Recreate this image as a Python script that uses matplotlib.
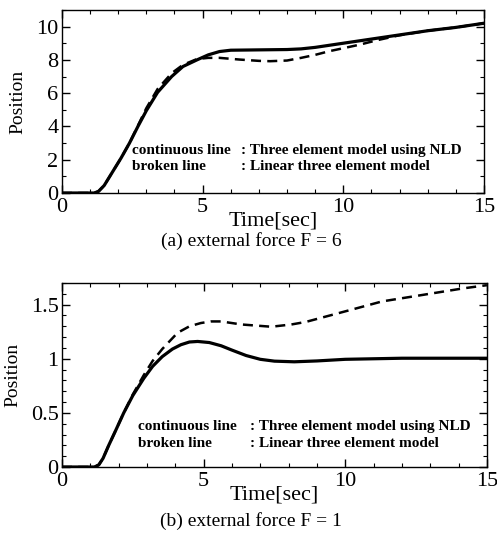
import matplotlib.pyplot as plt
from matplotlib.ticker import MultipleLocator, FormatStrFormatter

plt.rcParams['font.family'] = ['Liberation Serif', 'DejaVu Serif']

# (a) F = 6
t_a_nld = [0, 1.15, 1.3, 1.5, 1.7, 1.9, 2.1, 2.4, 2.7, 3.0, 3.4, 3.9, 4.3, 4.8, 5.2, 5.6,
           6.0, 7.0, 8.0, 8.5, 9.0, 10, 11, 12, 13, 14, 15]
x_a_nld = [0, 0, 0.1, 0.45, 1.0, 1.55, 2.1, 3.0, 4.0, 4.95, 6.05, 7.0, 7.6, 8.0, 8.3, 8.5,
           8.58, 8.6, 8.62, 8.66, 8.75, 9.0, 9.25, 9.5, 9.75, 9.95, 10.2]
t_a_lin = [0, 1.15, 1.3, 1.5, 1.7, 1.9, 2.1, 2.4, 2.7, 3.0, 3.4, 3.9, 4.3, 4.8, 5.2, 5.6,
           6.3, 7.0, 7.4, 8.0, 8.5, 9.0, 9.5, 10.0, 10.6, 11.2, 12, 13, 14, 15]
x_a_lin = [0, 0, 0.1, 0.45, 1.0, 1.55, 2.1, 3.0, 4.05, 5.1, 6.25, 7.2, 7.7, 8.05, 8.12, 8.12,
           8.02, 7.94, 7.92, 7.96, 8.12, 8.3, 8.52, 8.7, 8.92, 9.18, 9.48, 9.75, 9.95, 10.2]

# (b) F = 1
t_b_nld = [0, 1.15, 1.3, 1.45, 1.65, 1.9, 2.18, 2.5, 2.89, 3.2, 3.54, 3.9, 4.2, 4.5, 4.79,
           5.2, 5.62, 6.0, 6.5, 7.0, 7.5, 8.2, 9.0, 10, 11, 12, 15]
x_b_nld = [0, 0, 0.02, 0.08, 0.2, 0.34, 0.5, 0.66, 0.82, 0.93, 1.02, 1.09, 1.13, 1.155, 1.16,
           1.15, 1.12, 1.08, 1.03, 0.995, 0.978, 0.972, 0.98, 0.995, 1.0, 1.005, 1.005]
t_b_lin = [0, 1.15, 1.3, 1.45, 1.65, 1.9, 2.18, 2.5, 2.89, 3.2, 3.54, 4.08, 4.5, 4.9, 5.26,
           5.62, 6.33, 7.39, 8.1, 8.6, 9.17, 10.24, 11.3, 12.73, 14.15, 15]
x_b_lin = [0, 0, 0.02, 0.08, 0.2, 0.34, 0.5, 0.67, 0.85, 0.98, 1.09, 1.24, 1.3, 1.33, 1.345,
           1.345, 1.317, 1.296, 1.317, 1.34, 1.38, 1.455, 1.53, 1.59, 1.65, 1.68]

fig = plt.figure(figsize=(4.97, 5.4), dpi=100)
ax1 = fig.add_axes([0.1247, 0.6426, 0.849, 0.339])
ax2 = fig.add_axes([0.1247, 0.1352, 0.855, 0.3407])


def style_axes(ax, ymax, ymajor, yminor):
    ax.set_xlim(0, 15)
    ax.set_ylim(0, ymax)
    ax.xaxis.set_major_locator(MultipleLocator(5))
    ax.xaxis.set_minor_locator(MultipleLocator(1))
    ax.yaxis.set_major_locator(MultipleLocator(ymajor))
    ax.yaxis.set_minor_locator(MultipleLocator(yminor))
    ax.yaxis.set_major_formatter(FormatStrFormatter('%g'))
    ax.tick_params(which='both', direction='in', top=True, right=True, labelsize=16)
    ax.tick_params(axis='x', pad=3.5)
    ax.tick_params(axis='y', pad=2.5)
    ax.tick_params(which='major', length=6, width=1)
    ax.tick_params(which='minor', length=3, width=0.8)
    for s in ax.spines.values():
        s.set_linewidth(1)
    ax.set_xlabel('Time[sec]', fontsize=16, labelpad=-4)
    ax.set_ylabel('Position', fontsize=14, labelpad=7)


ax1.plot(t_a_nld, x_a_nld, color='black', lw=2.3)
ax1.plot(t_a_lin, x_a_lin, color='black', lw=1.8, ls=(0, (4, 2.5)))
style_axes(ax1, 11, 2, 1)
ax1.text(2.49, 2.33, 'continuous line', fontsize=11, fontweight='bold')
ax1.text(2.49, 1.38, 'broken line', fontsize=11, fontweight='bold')
ax1.text(6.35, 2.33, ': Three element model using NLD', fontsize=11, fontweight='bold')
ax1.text(6.35, 1.38, ': Linear three element model', fontsize=11, fontweight='bold')

ax2.plot(t_b_nld, x_b_nld, color='black', lw=2.3)
ax2.plot(t_b_lin, x_b_lin, color='black', lw=1.8, ls=(0, (4, 2.5)))
style_axes(ax2, 1.7, 0.5, 0.1)
ax2.text(2.68, 0.34, 'continuous line', fontsize=11, fontweight='bold')
ax2.text(2.68, 0.186, 'broken line', fontsize=11, fontweight='bold')
ax2.text(6.62, 0.34, ': Three element model using NLD', fontsize=11, fontweight='bold')
ax2.text(6.62, 0.186, ': Linear three element model', fontsize=11, fontweight='bold')

fig.text(0.505, 0.553, '(a) external force F = 6', fontsize=14, ha='center', va='center')
fig.text(0.505, 0.035, '(b) external force F = 1', fontsize=14, ha='center', va='center')

fig.savefig('out.png', dpi=100)
